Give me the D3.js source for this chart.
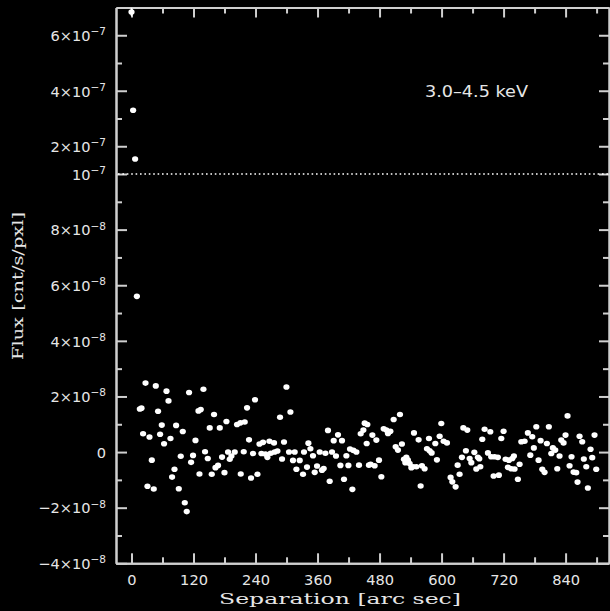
<!DOCTYPE html>
<html>
<head>
<meta charset="utf-8">
<script src="https://cdn.jsdelivr.net/npm/d3@7"></script>
<style>
  html, body { margin: 0; padding: 0; background: #000; }
  svg { display: block; }
</style>
</head>
<body>
<svg id="chart" width="610" height="611"></svg>
<script>
// ---------- data ----------
const FLUX_UNIT = 1e-8; // flux values below are in units of 1e-8 cnt/s/pxl
const separation = [
  0, 3.1, 7.0, 10.4, 16.1, 19.3, 22.4, 27.1, 30.9, 34.8,
  39.3, 43.1, 47.0, 51.4, 55.3, 58.6, 63.0, 67.7, 71.6, 75.4,
  78.5, 83.2, 86.3, 91.5, 95.3, 99.2, 103.1, 106.9, 111.4, 115.3,
  119.1, 123.8, 129.6, 131.5, 134.0, 139.2, 142.3, 147.6, 151.4, 155.3,
  159.7, 162.5, 167.5, 170.8, 175.2, 179.9, 183.7, 186.8, 190.1, 193.4,
  199.8, 204.2, 210.8, 211.4, 217.2, 219.1, 223.6, 227.4, 231.3, 235.2,
  239.0, 243.7, 247.6, 251.4, 254.5, 259.2, 263.0, 266.9, 269.4, 275.8,
  277.0, 282.4, 287.4, 291.3, 295.1, 299.8, 304.8, 307.5, 312.5, 315.8,
  319.1, 325.5, 331.9, 333.8, 339.6, 342.3, 346.2, 351.2, 354.5, 359.0,
  364.2, 368.6, 371.9, 375.2, 380.2, 383.5, 388.0, 391.3, 395.7, 399.6,
  404.2, 407.3, 411.2, 415.8, 419.7, 422.8, 427.4, 429.4, 435.2, 440.2,
  443.5, 448.7, 451.2, 455.1, 456.4, 459.5, 462.8, 466.1, 470.5, 473.8,
  478.9, 483.5, 488.0, 493.2, 496.3, 500.9, 507.3, 511.2, 515.6, 519.5,
  523.3, 527.2, 529.9, 531.9, 534.9, 538.2, 541.5, 544.6, 546.6, 551.2,
  555.6, 559.5, 562.0, 567.2, 571.7, 575.6, 576.9, 580.8, 587.9, 591.0,
  596.3, 599.5, 604.0, 610.4, 617.5, 620.8, 627.2, 631.1, 634.9, 639.4,
  642.1, 647.1, 649.8, 654.3, 657.6, 663.4, 667.2, 670.3, 673.0, 675.0,
  678.8, 683.3, 689.7, 694.3, 696.0, 700.7, 702.6, 709.0, 710.9, 715.6,
  720.0, 723.9, 728.4, 730.3, 734.9, 736.9, 740.0, 741.3, 747.7, 751.0,
  754.3, 760.7, 767.0, 771.7, 775.5, 778.6, 783.3, 787.7, 791.6, 794.9,
  799.3, 803.8, 807.6, 812.3, 815.4, 820.0, 823.9, 828.3, 831.6, 836.1,
  839.9, 843.8, 847.7, 851.5, 855.4, 860.6, 863.1, 867.0, 872.2, 875.3,
  880.0, 883.1, 888.3, 891.6, 896.0, 899.3
];
const flux = [
  68.4, 33.0, 15.4, 5.6, 1.55, 1.58, 0.66, 2.48, -1.23, 0.54,
  -0.29, -1.33, 2.38, 1.47, 0.64, 0.97, 0.30, 2.19, 1.84, 0.49,
  -0.90, -0.62, 0.96, -1.32, -0.15, 0.74, -1.82, -2.14, 2.14, -0.37,
  -0.12, 0.42, 1.48, -0.79, 1.53, 2.26, 0.01, -0.23, 0.87, -0.80,
  1.35, -0.56, -0.48, 0.87, -0.18, -0.74, 1.10, 0.00, -0.26, -0.14,
  0.00, 0.99, 1.05, -0.79, 0.01, 1.08, 1.59, 0.44, -0.93, -0.05,
  1.88, -0.80, 0.29, -0.05, 0.35, -0.07, -0.19, 0.39, -0.04, 0.33,
  0.00, 0.04, 1.25, -0.25, 0.36, 2.34, 0.00, 1.44, -0.30, 0.00,
  -0.62, -0.30, -0.80, 0.00, -0.54, 0.32, 0.12, -0.13, -0.73, -0.50,
  0.00, -0.65, -0.59, -0.04, 0.78, -1.05, 0.00, 0.41, -0.14, 0.62,
  -0.48, 0.41, -0.98, -0.13, -0.48, 0.11, -1.34, 0.06, 0.00, -0.47,
  0.66, 0.79, 1.04, 0.31, 0.99, -0.47, -0.44, 0.61, -0.49, 0.43,
  -0.29, -0.89, 0.84, 0.79, 0.67, 0.75, 1.17, 0.19, 0.07, 1.35,
  0.29, -0.26, -0.38, -0.19, -0.29, -0.41, -0.56, -0.53, 0.69, -0.53,
  0.44, -1.22, -0.49, -0.60, 0.12, 0.49, 0.05, -0.03, 0.31, -0.28,
  0.57, 1.03, 0.39, 0.33, -0.91, -1.07, -1.25, -0.47, -0.80, -0.19,
  0.87, 0.05, 0.79, -0.23, -0.38, -0.01, -0.61, -0.19, -0.24, -0.53,
  0.46, 0.82, -0.03, 0.73, -0.17, -0.86, -0.17, -0.19, -0.83, 0.49,
  0.75, -0.26, -0.55, -0.29, -0.60, -0.23, -0.14, -0.61, -0.98, -0.44,
  0.37, 0.39, 0.69, -0.11, 0.55, 0.15, 0.91, -0.29, 0.41, -0.62,
  -0.73, 0.31, 0.91, -0.05, 0.15, 0.07, -0.60, -0.14, 0.43, 0.33,
  0.61, 1.30, -0.49, -0.17, -0.72, -0.74, -1.08, 0.57, 0.37, -0.25,
  -0.53, -1.29, 0.10, -0.20, 0.61, -0.62
];
// error bar on the first (peak) point, in units of 1e-8
const peakErr = 1.5;

const xMajorTicks = [0, 120, 240, 360, 480, 600, 720, 840];
const xMinorTicks = [60, 180, 300, 420, 540, 660, 780, 900];
const yMajorTicks = [-4e-8, -2e-8, 0, 2e-8, 4e-8, 6e-8, 8e-8, 1e-7, 2e-7, 4e-7, 6e-7];
const yTickBase   = ["\u22124\u00d710", "\u22122\u00d710", "0", "2\u00d710", "4\u00d710", "6\u00d710", "8\u00d710", "10", "2\u00d710", "4\u00d710", "6\u00d710"];
const yTickExp    = ["\u22128", "\u22128", "", "\u22128", "\u22128", "\u22128", "\u22128", "\u22127", "\u22127", "\u22127", "\u22127"];
const yMinorTicks = [-3e-8, -1e-8, 1e-8, 3e-8, 5e-8, 7e-8, 9e-8, 3e-7, 5e-7];
const breakValue = 1e-7;
const bandLabel = "3.0\u20134.5 keV";
const xTitle = "Separation [arc sec]";
const yTitle = "Flux [cnt/s/pxl]";

// ---------- layout ----------
const L = 116, R = 609, T = 7.5, B = 563.3;
const axisColor = "#cfcfcf";
const textColor = "#e6e6e6";

const svg = d3.select("#chart");
svg.append("rect").attr("width", 610).attr("height", 611).attr("fill", "#000");

const x = d3.scaleLinear().domain([-30, 924]).range([L, R]);
// broken linear scale: lower part 1e-8 per step, upper part compressed 10x
const y = d3.scaleLinear().domain([-4e-8, 1e-7, 7e-7]).range([B, 174, T]);

function styleAxis(g) {
  g.select(".domain").attr("stroke", axisColor).attr("stroke-width", 2);
  g.selectAll(".tick line").attr("stroke", axisColor).attr("stroke-width", 2);
}

// left axis (major with labels)
const gLeft = svg.append("g").attr("transform", `translate(${L},0)`)
  .call(d3.axisLeft(y).tickValues(yMajorTicks).tickSizeInner(-11).tickSizeOuter(0).tickPadding(10).tickFormat(() => ""));
styleAxis(gLeft);
gLeft.selectAll(".tick text").each(function(d, i) {
  const t = d3.select(this);
  t.text(null)
    .attr("fill", textColor)
    .attr("font-family", "DejaVu Sans, sans-serif")
    .attr("font-size", 14.6)
    .attr("dy", "0.36em")
    .attr("text-anchor", "end");
  t.append("tspan").text(yTickBase[i]);
  if (yTickExp[i]) {
    t.append("tspan").text(yTickExp[i]).attr("font-size", 10.5).attr("dy", "-0.55em");
  }
});
// left minor
styleAxis(svg.append("g").attr("transform", `translate(${L},0)`)
  .call(d3.axisLeft(y).tickValues(yMinorTicks).tickSizeInner(-6).tickSizeOuter(0).tickFormat(() => "")));

// right axis
styleAxis(svg.append("g").attr("transform", `translate(${R},0)`)
  .call(d3.axisRight(y).tickValues(yMajorTicks).tickSizeInner(-10).tickSizeOuter(0).tickFormat(() => "")));
styleAxis(svg.append("g").attr("transform", `translate(${R},0)`)
  .call(d3.axisRight(y).tickValues(yMinorTicks).tickSizeInner(-6).tickSizeOuter(0).tickFormat(() => "")));

// bottom axis
const gBottom = svg.append("g").attr("transform", `translate(0,${B})`)
  .call(d3.axisBottom(x).tickValues(xMajorTicks).tickSizeInner(-10).tickSizeOuter(0).tickPadding(11).tickFormat(d3.format("d")));
styleAxis(gBottom);
gBottom.selectAll(".tick text")
  .attr("fill", textColor)
  .attr("font-family", "DejaVu Sans, sans-serif")
  .attr("font-size", 14.6);
styleAxis(svg.append("g").attr("transform", `translate(0,${B})`)
  .call(d3.axisBottom(x).tickValues(xMinorTicks).tickSizeInner(-6).tickSizeOuter(0).tickFormat(() => "")));

// top axis
styleAxis(svg.append("g").attr("transform", `translate(0,${T})`)
  .call(d3.axisTop(x).tickValues(xMajorTicks).tickSizeInner(-10).tickSizeOuter(0).tickFormat(() => "")));
styleAxis(svg.append("g").attr("transform", `translate(0,${T})`)
  .call(d3.axisTop(x).tickValues(xMinorTicks).tickSizeInner(-6).tickSizeOuter(0).tickFormat(() => "")));

// dotted line at the axis break
svg.append("line")
  .attr("x1", L + 2).attr("x2", R)
  .attr("y1", y(breakValue)).attr("y2", y(breakValue))
  .attr("stroke", "#ffffff").attr("stroke-width", 1.6)
  .attr("stroke-dasharray", "1.6 2.8");

// error bar on peak point
svg.append("line")
  .attr("x1", x(separation[0])).attr("x2", x(separation[0]))
  .attr("y1", y((flux[0] + peakErr) * FLUX_UNIT)).attr("y2", y((flux[0] - peakErr) * FLUX_UNIT))
  .attr("stroke", "#fff").attr("stroke-width", 1.5);

// points
const pts = separation.map((s, i) => ({ s, f: flux[i] * FLUX_UNIT }));
svg.append("g").selectAll("ellipse").data(pts).join("ellipse")
  .attr("cx", d => x(d.s))
  .attr("cy", d => y(d.f))
  .attr("rx", 3.1).attr("ry", 2.8)
  .attr("fill", "#ffffff");

// band label
svg.append("text")
  .attr("x", 425).attr("y", 97)
  .attr("fill", textColor)
  .attr("font-family", "DejaVu Sans, sans-serif")
  .attr("font-size", 15.5)
  .attr("textLength", 103).attr("lengthAdjust", "spacingAndGlyphs")
  .text(bandLabel);

// axis titles
svg.append("text")
  .attr("x", 340).attr("y", 604)
  .attr("text-anchor", "middle")
  .attr("fill", textColor)
  .attr("font-family", "DejaVu Serif, serif")
  .attr("font-size", 15)
  .attr("textLength", 242).attr("lengthAdjust", "spacingAndGlyphs")
  .text(xTitle);

svg.append("text")
  .attr("transform", "translate(23,286) rotate(-90)")
  .attr("text-anchor", "middle")
  .attr("fill", textColor)
  .attr("font-family", "DejaVu Serif, serif")
  .attr("font-size", 15)
  .attr("textLength", 148).attr("lengthAdjust", "spacingAndGlyphs")
  .text(yTitle);
</script>
</body>
</html>
